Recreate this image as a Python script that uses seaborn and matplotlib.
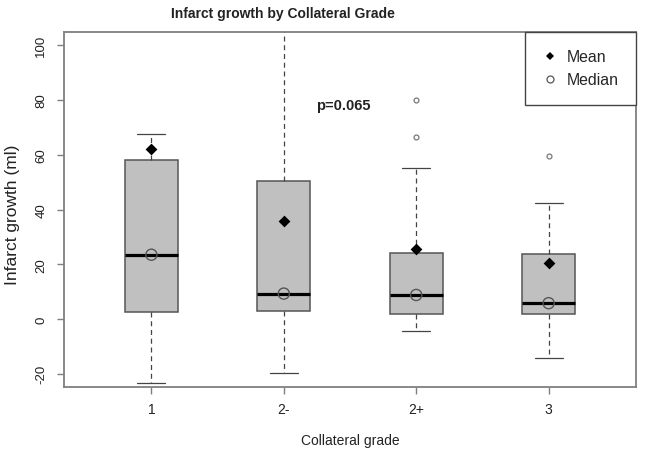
"""Infarct growth by collateral grade: box summary with mean/median markers."""

import matplotlib.pyplot as plt
import numpy as np
import pandas as pd
import seaborn as sns
from matplotlib.lines import Line2D

sns.set_style("white")
plt.rcParams["font.family"] = ["Liberation Sans", "DejaVu Sans"]

GRADES = ["1", "2-", "2+", "3"]
Q1 = [2.4, 3.1, 2.0, 1.8]
MEDIANS = [23.5, 9.3, 8.8, 5.8]
Q3 = [58.0, 50.5, 24.1, 23.6]
WHISKER_LO = [-23.4, -19.8, -4.3, -14.3]
WHISKER_HI = [67.6, 112.0, 55.0, 42.3]
MEANS = [62.2, 35.8, 25.6, 20.5]
OUTLIERS = [[], [], [80.0, 66.6], [59.6]]
P_TEXT = "p=0.065"
P_POS = (1.45, 78.2)

BOX_FILL = "#c0c0c0"
BOX_EDGE = "#555555"
FRAME = "#7f7f7f"
TEXT = "#222222"

positions = np.arange(len(GRADES))
stats = [
    {"q1": q1, "med": med, "q3": q3, "whislo": lo, "whishi": hi, "fliers": fl}
    for q1, med, q3, lo, hi, fl in zip(Q1, MEDIANS, Q3, WHISKER_LO, WHISKER_HI, OUTLIERS)
]
summary = pd.DataFrame({"pos": positions, "grade": GRADES, "mean": MEANS, "median": MEDIANS})

fig = plt.figure(figsize=(6.48, 4.56), dpi=100)
ax = fig.add_axes([64 / 648, 68 / 456, 572 / 648, 355 / 456])

ax.bxp(
    stats,
    positions=positions,
    widths=0.4,
    capwidths=0.21,
    patch_artist=True,
    boxprops={"facecolor": BOX_FILL, "edgecolor": BOX_EDGE, "linewidth": 1.1},
    medianprops={"color": "black", "linewidth": 2.3, "solid_capstyle": "butt"},
    whiskerprops={"color": "#444444", "linestyle": (0, (4, 3)), "linewidth": 0.9},
    capprops={"color": "#444444", "linewidth": 0.9},
    flierprops={
        "marker": "o",
        "markerfacecolor": "none",
        "markeredgecolor": "#777777",
        "markersize": 3.5,
        "markeredgewidth": 0.9,
    },
)

# Mean (filled diamond) and median (open circle) markers
sns.scatterplot(
    data=summary, x="pos", y="mean", marker="D", s=36, color="black",
    edgecolor="black", linewidth=0, ax=ax, legend=False, zorder=5,
)
sns.scatterplot(
    data=summary, x="pos", y="median", marker="o", s=64, facecolors="none",
    edgecolor="#555555", linewidth=1.0, ax=ax, legend=False, zorder=5,
)

ax.text(*P_POS, P_TEXT, ha="center", va="center", fontweight="bold",
        fontsize=10.5, color=TEXT)

ax.set_xlim(-0.66, 3.66)
ax.set_ylim(-24.8, 104.8)
ax.set_xticks(positions, GRADES, fontsize=10)
yticks = np.arange(-20, 101, 20)
ax.set_yticks(yticks, [str(v) for v in yticks], rotation=90, va="center", fontsize=9.5)
ax.set_xlabel("")
ax.set_ylabel("")
ax.tick_params(
    bottom=True, left=True, direction="out", length=5, width=1,
    color=FRAME, labelcolor=TEXT,
)
ax.tick_params(axis="y", pad=7)
ax.tick_params(axis="x", pad=6)
for spine in ax.spines.values():
    spine.set_visible(True)
    spine.set_color(FRAME)
    spine.set_linewidth(1.3)

handles = [
    Line2D([], [], marker="D", linestyle="none", color="black", markersize=4, markeredgewidth=0),
    Line2D([], [], marker="o", linestyle="none", markerfacecolor="none",
           markeredgecolor="#555555", markersize=5, markeredgewidth=0.9),
]
leg = ax.legend(
    handles, ["Mean", "Median"], loc="upper right", bbox_to_anchor=(1, 1),
    borderaxespad=0, fancybox=False, framealpha=1, edgecolor="#444444",
    fontsize=11.4, handlelength=1.0, handletextpad=0.55, borderpad=1.1, labelspacing=0.5,
)
leg.get_frame().set_linewidth(1.0)

fig.text(283 / 648, 1 - 14 / 456, "Infarct growth by Collateral Grade", ha="center",
         va="center", fontweight="bold", fontsize=10, color=TEXT)
fig.text(350 / 648, 1 - 441 / 456, "Collateral grade", ha="center", va="center",
         fontsize=10, color=TEXT)
fig.text(13 / 648, 1 - 215 / 456, "Infarct growth (ml)", rotation=90,
         ha="center", va="center", fontsize=12.5, color=TEXT)

fig.savefig("out.png", dpi=100)
